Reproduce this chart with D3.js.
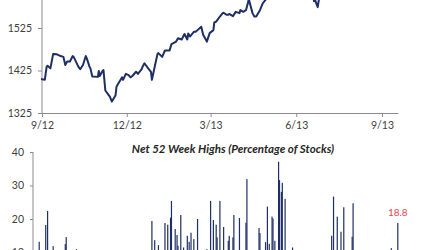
<!DOCTYPE html>
<html>
<head>
<meta charset="utf-8">
<script src="https://cdn.jsdelivr.net/npm/d3@7"></script>
<style>
  body { margin: 0; background: #fff; }
  svg { display: block; }
  .axis path, .axis line { stroke: #8c8c8c; }
  .axis text { fill: #404040; font-family: Lato, "Open Sans", sans-serif; font-size: 10.5px; }
</style>
</head>
<body>
<svg id="chart" width="430" height="250"></svg>
<script>
// S&P 500 (top panel)
var lineDates = ["2012-08-31","2012-09-04","2012-09-06","2012-09-07","2012-09-10","2012-09-13","2012-09-17","2012-09-21","2012-09-24","2012-09-26",
  "2012-09-28","2012-10-01","2012-10-04","2012-10-05","2012-10-10","2012-10-12","2012-10-15","2012-10-18","2012-10-19","2012-10-22",
  "2012-10-23","2012-10-25","2012-10-31","2012-11-01","2012-11-02","2012-11-05","2012-11-06","2012-11-08","2012-11-13","2012-11-15",
  "2012-11-19","2012-11-20","2012-11-21","2012-11-26","2012-11-27","2012-11-30","2012-12-03","2012-12-05","2012-12-07","2012-12-11",
  "2012-12-13","2012-12-17","2012-12-18","2012-12-20","2012-12-24","2012-12-27","2012-12-28","2012-12-31","2013-01-03","2013-01-04",
  "2013-01-08","2013-01-11","2013-01-16","2013-01-18","2013-01-23","2013-01-25","2013-01-29","2013-02-01","2013-02-04","2013-02-05",
  "2013-02-07","2013-02-11","2013-02-13","2013-02-15","2013-02-19","2013-02-21","2013-02-25","2013-02-28","2013-03-04","2013-03-05",
  "2013-03-07","2013-03-11","2013-03-14","2013-03-15","2013-03-18","2013-03-20","2013-03-21","2013-03-25","2013-03-28","2013-04-01",
  "2013-04-02","2013-04-05","2013-04-08","2013-04-10","2013-04-11","2013-04-15","2013-04-17","2013-04-19","2013-04-23","2013-04-26",
  "2013-04-30","2013-05-03","2013-05-08","2013-05-14","2013-05-17","2013-05-21","2013-05-23","2013-05-28","2013-05-31","2013-06-05",
  "2013-06-07","2013-06-11","2013-06-14","2013-06-18","2013-06-19","2013-06-20","2013-06-21","2013-06-24","2013-06-25","2013-06-26",
  "2013-06-27","2013-07-01","2013-07-05","2013-07-11","2013-07-15","2013-07-19","2013-07-24","2013-08-02","2013-08-07","2013-08-14",
  "2013-08-19","2013-08-23","2013-08-27","2013-08-30","2013-09-03","2013-09-09","2013-09-13","2013-09-18"];
var lineValues = [1405,1403,1434,1436,1430,1464,1463,1459,1457,1438,
  1446,1446,1459,1457,1434,1428,1438,1459,1454,1434,
  1430,1411,1410,1424,1412,1424,1426,1378,1363,1352,
  1367,1387,1391,1409,1403,1417,1414,1409,1412,1422,
  1417,1428,1434,1442,1430,1422,1403,1434,1464,1466,
  1457,1472,1472,1487,1493,1501,1498,1511,1498,1512,
  1505,1516,1516,1520,1528,1509,1493,1513,1520,1538,
  1540,1552,1560,1561,1556,1556,1558,1553,1563,1560,
  1567,1563,1567,1583,1593,1560,1552,1552,1567,1583,
  1594,1614,1632,1650,1667,1669,1650,1660,1631,1608,
  1643,1626,1626,1652,1628,1588,1592,1574,1588,1603,
  1613,1614,1631,1675,1683,1692,1685,1709,1690,1685,
  1646,1663,1630,1633,1640,1671,1688,1725];
var lineTicks = [1325, 1425, 1525];
var dateTicks = ["2012-09-01","2012-12-01","2013-03-01","2013-06-01","2013-09-01"];

// Net 52 week highs, % of stocks (bottom panel)
var barDates = ["2012-08-29","2012-09-05","2012-09-07","2012-09-13","2012-09-14","2012-09-20","2012-09-26","2012-09-27","2012-10-05","2012-10-08",
  "2012-10-17","2012-10-18","2012-11-01","2012-12-03","2012-12-18","2012-12-20","2012-12-28","2012-12-31","2013-01-04","2013-01-11",
  "2013-01-14","2013-01-17","2013-01-18","2013-01-22","2013-01-24","2013-01-25","2013-01-28","2013-01-31","2013-02-04","2013-02-06",
  "2013-02-08","2013-02-11","2013-02-15","2013-02-20","2013-02-25","2013-03-01","2013-03-04","2013-03-07","2013-03-08","2013-03-11",
  "2013-03-15","2013-03-20","2013-03-21","2013-03-25","2013-03-26","2013-04-01","2013-04-08","2013-04-09","2013-04-22","2013-04-23",
  "2013-04-29","2013-05-01","2013-05-03","2013-05-06","2013-05-07","2013-05-09","2013-05-13","2013-05-14","2013-05-16","2013-05-17",
  "2013-05-20","2013-05-22","2013-05-28","2013-06-05","2013-06-18","2013-07-02","2013-07-09","2013-07-11","2013-07-15","2013-07-19",
  "2013-07-22","2013-07-31","2013-08-01","2013-08-02","2013-08-14","2013-08-28","2013-09-09","2013-09-11","2013-09-18"];
var barValues = [13.2,18.2,22.4,11.9,7,5,12.5,14.6,6,11,
  8,6,3,2,5,7,19.4,13.7,12.2,18.8,
  18.3,20.4,25.4,17,15.2,12,21.2,11.5,15,13.2,
  15.9,14,20,7,11,25.4,19.7,18.3,14.5,25.4,
  17.6,13.5,15,14.5,21.2,20.3,18.9,31.9,17.3,15.8,
  13.1,23.7,12.6,20.7,20.1,13.5,37.1,31.6,28.1,30.8,
  26,9,11.5,4,6,5,15,26.7,20.7,16.2,
  23.5,14.7,24.7,9,6,2,7,11.3,18.8];
var barTicks = [10, 20, 30, 40];
var lastLabel = "18.8";

var parse = d3.timeParse("%Y-%m-%d");
var svg = d3.select("#chart");
var navy = "#1f2f66";
var fontStack = "Lato, 'Open Sans', sans-serif";

var x = d3.scaleTime()
    .domain([parse("2012-09-01"), parse("2013-09-18")])
    .range([42, 397.8]);

// ---- top panel
var yTop = d3.scaleLinear().domain([1325, 1725]).range([113, -57]);

svg.append("g")
    .attr("class", "axis")
    .attr("transform", "translate(0,113)")
    .call(d3.axisBottom(x)
        .tickValues(dateTicks.map(parse))
        .tickFormat(d3.timeFormat("%-m/%y"))
        .tickSize(4).tickSizeOuter(0).tickPadding(5));

var yAxisTop = svg.append("g")
    .attr("class", "axis")
    .attr("transform", "translate(42,0)")
    .call(d3.axisLeft(yTop).tickValues(lineTicks).tickFormat(d3.format("d"))
        .tickSize(4).tickSizeOuter(0).tickPadding(6));
// the axis line runs on past the top of the window
yAxisTop.select(".domain").attr("d", "M0," + yTop(1725) + "V113");

var line = d3.line()
    .x(function(d, i) { return x(parse(lineDates[i])); })
    .y(function(d) { return yTop(d); });

svg.append("path")
    .datum(lineValues)
    .attr("fill", "none")
    .attr("stroke", navy)
    .attr("stroke-width", 2)
    .attr("stroke-linejoin", "round")
    .attr("d", line);

// ---- bottom panel
var yBot = d3.scaleLinear().domain([0, 40]).range([286, 152]);

var yAxisBot = svg.append("g")
    .attr("class", "axis")
    .attr("transform", "translate(33,0)")
    .call(d3.axisLeft(yBot).tickValues(barTicks).tickSize(3).tickSizeOuter(0).tickPadding(6));
yAxisBot.select(".domain").attr("d", "M0,152V286");

svg.append("g")
    .selectAll("rect")
    .data(barValues)
    .enter().append("rect")
      .attr("x", function(d, i) { return x(parse(barDates[i])) - 0.6; })
      .attr("width", 1.2)
      .attr("y", function(d) { return yBot(d); })
      .attr("height", function(d) { return yBot(0) - yBot(d); })
      .attr("fill", navy);

svg.append("text")
    .attr("x", 233)
    .attr("y", 153)
    .attr("text-anchor", "middle")
    .style("font-family", fontStack)
    .style("font-size", "11.5px")
    .style("font-weight", "bold")
    .style("font-style", "italic")
    .style("fill", "#262626")
    .text("Net 52 Week Highs (Percentage of Stocks)");

var n = barValues.length - 1;
svg.append("text")
    .attr("x", x(parse(barDates[n])))
    .attr("y", yBot(barValues[n]) - 7)
    .attr("text-anchor", "middle")
    .style("font-family", fontStack)
    .style("font-size", "10px")
    .style("fill", "#e8454f")
    .text(lastLabel);
</script>
</body>
</html>
